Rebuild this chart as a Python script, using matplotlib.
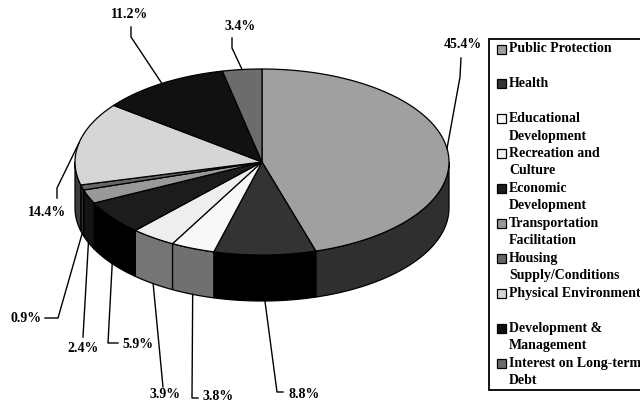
import matplotlib.pyplot as plt
from matplotlib.patches import Polygon, Rectangle
import numpy as np

plt.rcParams['font.family'] = ['Liberation Serif', 'DejaVu Serif']

# Spending shares (percent), clockwise from 12 o'clock
categories = ['Public Protection', 'Health', 'Educational\nDevelopment', 'Recreation and\nCulture',
              'Economic\nDevelopment', 'Transportation\nFacilitation', 'Housing\nSupply/Conditions',
              'Physical Environment', 'Development &\nManagement', 'Interest on Long-term\nDebt']
values = [45.4, 8.8, 3.8, 3.9, 5.9, 2.4, 0.9, 14.4, 11.2, 3.4]
top_colors = ['#a0a0a0', '#333333', '#f8f8f8', '#eeeeee', '#1c1c1c',
              '#999999', '#666666', '#d6d6d6', '#111111', '#6c6c6c']
side_colors = ['#2f2f2f', '#000000', '#707070', '#757575', '#000000',
               '#141414', '#2a2a2a', '#3c3c3c', '#000000', '#2a2a2a']

# label text centre and leader elbow points (pixels)
label_pos = [(463, 45), (304, 394), (218, 396), (165, 394), (138, 344),
             (83, 348), (26, 319), (47, 213), (130, 15), (240, 26)]
leader_pts = [[(460, 77), (461, 58)], [(277, 392), (283, 392)], [(192, 398), (198, 398)],
              [(163, 387)], [(108, 343), (118, 343)], [(83, 337)], [(58, 318), (45, 318)],
              [(57, 188), (57, 198)], [(131, 37), (131, 27)], [(232, 48), (232, 38)]]

cx, cy, rx, ry, depth = 262, 162, 187, 93, 46
fs = 10


def pt(t, dy=0):
    r = np.radians(t)
    return cx + rx * np.sin(r), cy - ry * np.cos(r) + dy


fig = plt.figure(figsize=(6.4, 4.07), dpi=100)
ax = fig.add_axes([0, 0, 1, 1])
ax.set_xlim(0, 640)
ax.set_ylim(407, 0)
ax.axis('off')

total = sum(values)
bounds = np.concatenate([[0], np.cumsum(values)]) / total * 360

# side walls (front half: 90..270 deg clockwise from top)
for i in range(len(values)):
    a0, a1 = max(bounds[i], 90), min(bounds[i + 1], 270)
    if a1 <= a0:
        continue
    ts = np.linspace(a0, a1, 60)
    top = [pt(t) for t in ts]
    bot = [pt(t, depth) for t in ts[::-1]]
    ax.add_patch(Polygon(top + bot, closed=True, facecolor=side_colors[i],
                         edgecolor='black', linewidth=0.9))

# top faces
for i in range(len(values)):
    ts = np.linspace(bounds[i], bounds[i + 1], 120)
    poly = [(cx, cy)] + [pt(t) for t in ts]
    ax.add_patch(Polygon(poly, closed=True, facecolor=top_colors[i],
                         edgecolor='black', linewidth=0.9))

# leader lines and percent labels
for i, v in enumerate(values):
    mid = (bounds[i] + bounds[i + 1]) / 2
    anchor = pt(mid, depth if 90 < mid < 270 else 0)
    pts = [anchor] + leader_pts[i]
    ax.plot([p[0] for p in pts], [p[1] for p in pts], color='black', linewidth=1.0)
    ax.text(label_pos[i][0], label_pos[i][1], f'{v:.1f}%', ha='center', va='center',
            fontsize=fs, fontweight='bold')

# legend
ax.add_patch(Rectangle((489, 39), 200, 351, facecolor='white', edgecolor='black',
                       linewidth=1.3, clip_on=False))
for i, name in enumerate(categories):
    y0 = 49 + i * 34.9
    ax.add_patch(Rectangle((497, y0 - 4.5), 9, 9, facecolor=top_colors[i],
                           edgecolor='black', linewidth=0.9))
    for j, line in enumerate(name.split('\n')):
        ax.text(509, y0 + j * 17.3, line, ha='left', va='center',
                fontsize=fs, fontweight='bold')

fig.savefig('out.png', dpi=100)
